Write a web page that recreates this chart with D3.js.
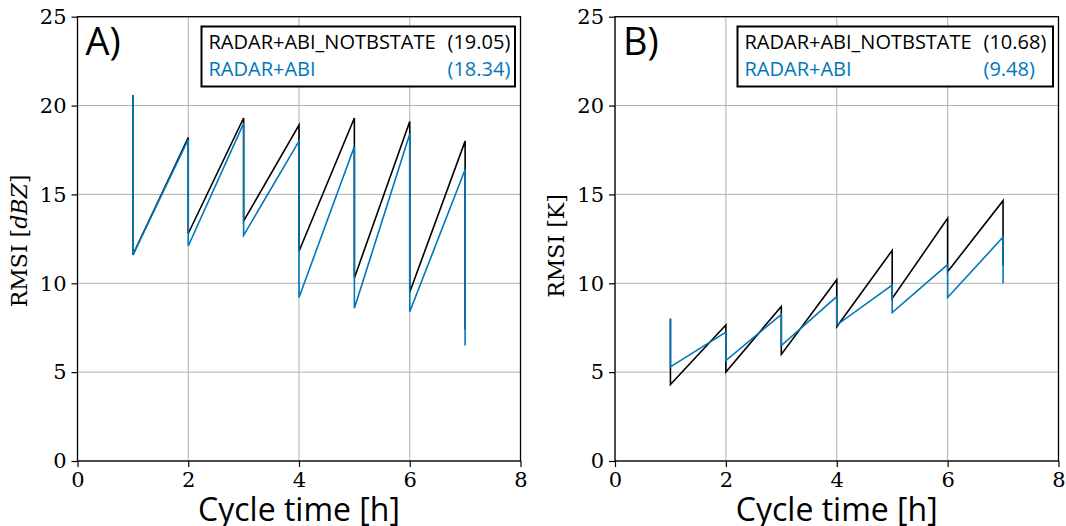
<!DOCTYPE html>
<html>
<head>
<meta charset="utf-8">
<script src="https://cdn.jsdelivr.net/npm/d3@7"></script>
<style>
  body { margin: 0; background: #fff; }
  svg { display: block; }
</style>
</head>
<body>
<script>
// cycle times: each analysis step is a vertical drop at the integer hour
const cycleTimes = [1, 1, 2, 2, 3, 3, 4, 4, 5, 5, 6, 6, 7, 7];

// panel A: RMSI [dBZ]
const dbzNoTbState = [20.6, 11.6, 18.2, 12.8, 19.3, 13.5, 18.9, 11.8, 19.3, 10.3, 19.1, 9.5, 18.0, 7.4];
const dbzRadarAbi  = [20.6, 11.6, 18.1, 12.1, 19.0, 12.7, 18.0, 9.2, 17.7, 8.6, 18.4, 8.4, 16.4, 6.5];

// panel B: RMSI [K]
const kNoTbState = [8.0, 4.3, 7.65, 5.0, 8.7, 6.0, 10.2, 7.55, 11.85, 9.15, 13.65, 10.65, 14.65, 11.0];
const kRadarAbi  = [8.0, 5.3, 7.25, 5.65, 8.25, 6.5, 9.25, 7.65, 9.9, 8.35, 11.05, 9.2, 12.6, 10.0];

const seriesNames = ["RADAR+ABI_NOTBSTATE", "RADAR+ABI"];
const scoresA = ["(19.05)", "(18.34)"];
const scoresB = ["(10.68)", "(9.48)"];

const xTicks = [0, 2, 4, 6, 8];
const yTicks = [0, 5, 10, 15, 20, 25];

const colors = ["#000000", "#0077bb"];
const width = 1066, height = 526;
const plotTop = 16.7, plotBottom = 461;

const svg = d3.select("body")
    .append("svg")
    .attr("width", width)
    .attr("height", height);

svg.append("rect")
    .attr("width", width)
    .attr("height", height)
    .attr("fill", "#fff");

function drawPanel(cfg){
    const xScale = d3.scaleLinear().domain([0, 8]).range([cfg.left, cfg.right]);
    const yScale = d3.scaleLinear().domain([0, 25]).range([plotBottom, plotTop]);
    const g = svg.append("g");

    // grid
    g.selectAll(".vgrid")
        .data(xTicks)
        .enter()
        .append("line")
        .attr("x1", d => xScale(d)).attr("x2", d => xScale(d))
        .attr("y1", plotTop).attr("y2", plotBottom)
        .attr("stroke", "#b0b0b0")
        .attr("stroke-width", 1);
    g.selectAll(".hgrid")
        .data(yTicks)
        .enter()
        .append("line")
        .attr("x1", cfg.left).attr("x2", cfg.right)
        .attr("y1", d => yScale(d)).attr("y2", d => yScale(d))
        .attr("stroke", "#b0b0b0")
        .attr("stroke-width", 1);

    // lines
    const line = d3.line()
        .x((d, i) => xScale(cycleTimes[i]))
        .y(d => yScale(d));
    cfg.series.forEach((vals, k) => {
        g.append("path")
            .datum(vals)
            .attr("d", line)
            .attr("fill", "none")
            .attr("stroke", colors[k])
            .attr("stroke-width", 1.6)
            .attr("stroke-linejoin", "miter");
    });

    // axes
    const xAxis = d3.axisBottom(xScale).tickValues(xTicks).tickSize(6).tickPadding(5).tickFormat(d3.format("d"));
    const yAxis = d3.axisLeft(yScale).tickValues(yTicks).tickSize(6).tickPadding(5).tickFormat(d3.format("d"));

    const xg = g.append("g")
        .attr("transform", `translate(0, ${plotBottom})`)
        .call(xAxis);
    const yg = g.append("g")
        .attr("transform", `translate(${cfg.left}, 0)`)
        .call(yAxis);
    [xg, yg].forEach(a => {
        a.select(".domain").remove();
        a.selectAll("line").attr("stroke", "#000").attr("stroke-width", 1.2);
        a.selectAll("text")
            .attr("fill", "#000")
            .style("font-family", "DejaVu Serif")
            .style("font-size", "21px");
    });

    // frame
    g.append("rect")
        .attr("x", cfg.left).attr("y", plotTop)
        .attr("width", cfg.right - cfg.left).attr("height", plotBottom - plotTop)
        .attr("fill", "none")
        .attr("stroke", "#000")
        .attr("stroke-width", 1.3);

    // panel tag
    g.append("text")
        .attr("x", cfg.left + 8)
        .attr("y", 55)
        .text(cfg.tag)
        .style("font-family", "Open Sans")
        .style("font-size", "38px");

    // legend
    const lg = g.append("g");
    lg.append("rect")
        .attr("x", cfg.legX).attr("y", 26.5)
        .attr("width", cfg.legW).attr("height", 60)
        .attr("fill", "#fff")
        .attr("stroke", "#000")
        .attr("stroke-width", 2);
    seriesNames.forEach((name, k) => {
        const t = lg.append("text")
            .attr("y", 48.5 + k * 27.5)
            .attr("fill", colors[k])
            .style("font-family", "Open Sans")
            .style("font-size", "20px");
        t.append("tspan").attr("x", cfg.legX + 7).text(name);
        t.append("tspan").attr("x", cfg.legX + 246).text(cfg.scores[k]);
    });

    // y label
    const yl = g.append("text")
        .attr("transform", `translate(${cfg.ylabX}, ${cfg.ylabY}) rotate(-90)`)
        .attr("text-anchor", "middle")
        .style("font-family", "DejaVu Serif")
        .style("font-size", "22px");
    cfg.ylabel.forEach(p => {
        yl.append("tspan").text(p.t).style("font-style", p.it ? "italic" : "normal");
    });

    // x label
    g.append("text")
        .attr("x", (cfg.left + cfg.right) / 2)
        .attr("y", 521)
        .attr("text-anchor", "middle")
        .text("Cycle time [h]")
        .style("font-family", "Open Sans")
        .style("font-size", "32px");
}

drawPanel({
    left: 77.5, right: 520.5, tag: "A)",
    series: [dbzNoTbState, dbzRadarAbi], scores: scoresA,
    legX: 201.5, legW: 313.5, ylabX: 27, ylabY: 241,
    ylabel: [{t: "RMSI ["}, {t: "dBZ", it: true}, {t: "]"}]
});
drawPanel({
    left: 615, right: 1058.5, tag: "B)",
    series: [kNoTbState, kRadarAbi], scores: scoresB,
    legX: 737.5, legW: 315.5, ylabX: 564, ylabY: 246,
    ylabel: [{t: "RMSI [K]"}]
});
</script>
</body>
</html>
